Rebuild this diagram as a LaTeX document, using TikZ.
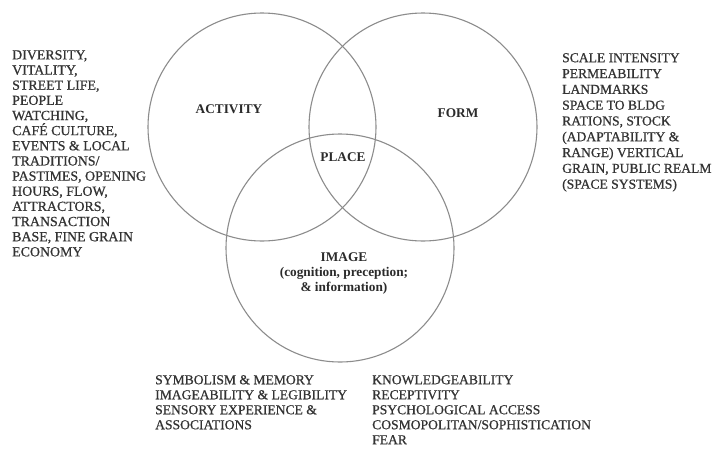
\documentclass[tikz,border=0pt]{standalone}
\usepackage{fontspec}
\setmainfont{Liberation Serif}
\newfontfamily\listfont{Liberation Serif}[FakeBold=0.7]
\definecolor{ink}{HTML}{2B2B2B}
\definecolor{listink}{HTML}{333333}
\definecolor{ring}{HTML}{8C8C8C}
\begin{document}
\begin{tikzpicture}[x=1pt,y=-1pt,
  ringline/.style={draw=ring,line width=1.1pt},
  hub/.style={inner sep=0pt,text=ink,font=\fontsize{13.3}{15}\selectfont\bfseries,align=center},
  listL/.style={inner sep=0pt,anchor=north west,text=listink,align=left,font=\listfont\fontsize{13.9}{15.15}\selectfont},
  listR/.style={inner sep=0pt,anchor=north west,text=listink,align=left,font=\listfont\fontsize{13.6}{15.8}\selectfont},
  listB/.style={inner sep=0pt,anchor=north west,text=listink,align=left,font=\listfont\fontsize{13.6}{15}\selectfont}]
\useasboundingbox (0,0) rectangle (713,448);
\fill[white] (0,0) rectangle (713,448);
% three overlapping circles
\draw[ringline] (262,127) circle[radius=114];
\draw[ringline] (423,127) circle[radius=114];
\draw[ringline] (340,248) circle[radius=114];
% circle labels
\node[hub] (activity) at (229,109) {ACTIVITY};
\node[hub] (form) at (458,113) {FORM};
\node[hub] (place) at (343,157) {PLACE};
\node[hub] (image) at (344,274) {IMAGE\\(cognition, preception;\\\& information)};
% attribute lists
\node[listL] (actlist) at (12,50) {DIVERSITY,\\VITALITY,\\STREET LIFE,\\PEOPLE\\WATCHING,\\CAFÉ CULTURE,\\EVENTS \& LOCAL\\TRADITIONS/\\PASTIMES, OPENING\\HOURS, FLOW,\\ATTRACTORS,\\TRANSACTION\\BASE, FINE GRAIN\\ECONOMY};
\node[listR] (formlist) at (562,53) {SCALE INTENSITY\\PERMEABILITY\\LANDMARKS\\SPACE TO BLDG\\RATIONS, STOCK\\(ADAPTABILITY \&\\RANGE) VERTICAL\\GRAIN, PUBLIC REALM\\(SPACE SYSTEMS)};
\node[listB] (imglistA) at (155,375) {SYMBOLISM \& MEMORY\\IMAGEABILITY \& LEGIBILITY\\SENSORY EXPERIENCE \&\\ASSOCIATIONS};
\node[listB] (imglistB) at (372,375) {KNOWLEDGEABILITY\\RECEPTIVITY\\PSYCHOLOGICAL ACCESS\\COSMOPOLITAN/SOPHISTICATION\\FEAR};
\end{tikzpicture}
\end{document}
